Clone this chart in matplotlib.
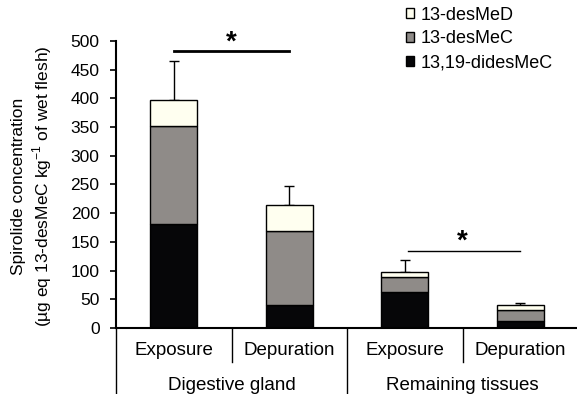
import numpy as np
import matplotlib.pyplot as plt

plt.rcParams['font.family'] = ['Liberation Sans', 'DejaVu Sans']

# data
conditions = ['Exposure', 'Depuration', 'Exposure', 'Depuration']
tissues = ['Digestive gland', 'Remaining tissues']
didesmec = [182, 40, 62, 13]
desmec = [170, 129, 26, 18]
desmed = [46, 45, 9, 9]
err_up = [67, 34, 21, 3]

series = ['13,19-didesMeC', '13-desMeC', '13-desMeD']
colors = ['#060608', '#8f8b88', '#fffff0']

fig = plt.figure(figsize=(5.77, 3.94), dpi=100)
ax = fig.add_axes([116/577, 1-328/394, 462/577, 287/394])

x = np.arange(len(conditions))
w = 0.41
bottom = np.zeros(len(x))
handles = []
for vals, col, name in zip([didesmec, desmec, desmed], colors, series):
    h = ax.bar(x, vals, w, bottom=bottom, color=col, edgecolor='black', linewidth=1, label=name, zorder=2)
    handles.append(h)
    bottom += np.array(vals)

ax.errorbar(x, bottom, yerr=[np.zeros(len(x)), err_up], fmt='none', ecolor='black',
            elinewidth=1, capsize=3.5, capthick=1, zorder=1)

ax.set_xlim(-0.5, 3.5)
ax.set_ylim(0, 500)
ax.set_yticks(np.arange(0, 501, 50))
ax.tick_params(axis='y', labelsize=12.5, length=4.3, width=1.2, direction='out', pad=7.5)
ax.set_xticks([])
for s in ['top', 'right']:
    ax.spines[s].set_visible(False)
ax.spines['left'].set_linewidth(1.5)
ax.spines['bottom'].set_linewidth(1.5)

fig.text(19/577, 1-186/394, 'Spirolide concentration', rotation=90, ha='center', va='center', fontsize=12.5)
fig.text(42/577, 1-186/394, '(µg eq 13-desMeC kg$^{\\mathregular{-1}}$ of wet flesh)', rotation=90,
         ha='center', va='center', fontsize=12.5)

# category labels and separators below the axis
for i, c in enumerate(conditions):
    ax.text(i, -0.08, c, transform=ax.get_xaxis_transform(), ha='center', va='center', fontsize=13.5)
for i, t in enumerate(tissues):
    ax.text(2*i + 0.5, -0.2, t, transform=ax.get_xaxis_transform(), ha='center', va='center', fontsize=13.5)
for xs in [0.5, 2.5]:
    ax.plot([xs, xs], [0, -0.12], transform=ax.get_xaxis_transform(), color='black', lw=1, clip_on=False)
for xs in [-0.5, 1.5, 3.5]:
    ax.plot([xs, xs], [0, -0.25], transform=ax.get_xaxis_transform(), color='black', lw=1, clip_on=False)

# significance markers
ax.plot([0, 1], [483, 483], color='black', lw=2)
ax.text(0.5, 498, '*', ha='center', va='center', fontsize=20, fontweight='bold', clip_on=False)
ax.plot([2.03, 3.0], [135, 135], color='black', lw=1)
ax.text(2.5, 151, '*', ha='center', va='center', fontsize=20, fontweight='bold')

leg = fig.legend(handles[::-1], series[::-1], loc='upper left', bbox_to_anchor=(406/577, 1-6.5/394),
                 frameon=False, fontsize=13, handlelength=0.45, handleheight=0.45,
                 handletextpad=0.37, labelspacing=0.38, borderpad=0, borderaxespad=0)

plt.savefig('out.png', dpi=100)
